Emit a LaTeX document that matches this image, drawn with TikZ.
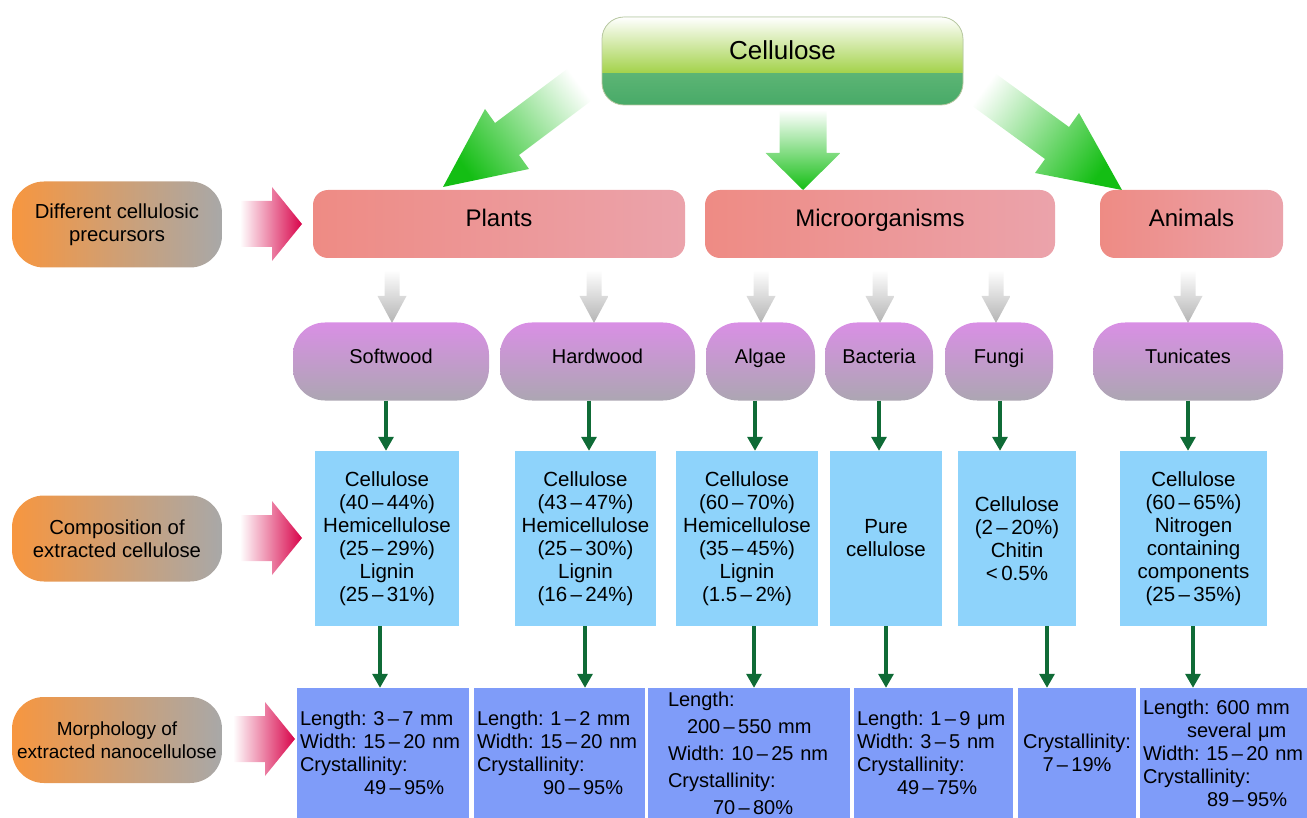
\documentclass[tikz,border=0pt]{standalone}
\usepackage{fontspec}
\setmainfont{Liberation Sans}
\usetikzlibrary{arrows.meta}
\definecolor{lorange}{HTML}{F7963F}
\definecolor{lgray}{HTML}{A8A8A8}
\definecolor{pinkL}{HTML}{EE8B84}
\definecolor{pinkR}{HTML}{EBA3AB}
\definecolor{pillT}{HTML}{D98FE5}
\definecolor{pillB}{HTML}{ACA6B2}
\definecolor{compc}{HTML}{8ED3FB}
\definecolor{morphc}{HTML}{7F9CF9}
\definecolor{dgreen}{HTML}{0F6B36}
\definecolor{agreen}{HTML}{14BE14}
\definecolor{parr}{HTML}{D8044A}
\definecolor{garr}{HTML}{B4B4B4}
\definecolor{cg1}{HTML}{80C78A}
\definecolor{cg2}{HTML}{48AA68}
\definecolor{cy}{HTML}{A3D24A}
\definecolor{cborder}{HTML}{B9C8A2}
\tikzset{
 lbl/.style={rounded corners=32pt, minimum width=210pt, minimum height=86pt, left color=lorange, right color=lgray, inner sep=0pt, align=center},
 grp/.style={rounded corners=15pt, minimum height=68pt, left color=pinkL, right color=pinkR, inner sep=0pt, text height=17pt, text depth=12pt, font=\fontsize{24}{28}\selectfont},
 pill/.style={rounded corners=32pt, minimum height=78pt, top color=pillT, bottom color=pillB, inner sep=0pt, text height=14pt, text depth=10pt, font=\fontsize{20}{24}\selectfont},
 comp/.style={fill=compc, minimum height=175pt, inner sep=0pt, align=center, font=\fontsize{20.5}{23}\selectfont},
 morph/.style={fill=morphc, minimum height=130pt, inner ysep=0pt, align=left, font=\fontsize{20}{23}\selectfont},
 garrow/.style={draw=dgreen, line width=3.2pt, -{Triangle[length=14pt,width=15pt]}},
 grayarr/.pic={\shade[top color=white, bottom color=garr] (-7.5,0) -- (-7.5,26) -- (-14.5,26) -- (0,53) -- (14.5,26) -- (7.5,26) -- (7.5,0) -- cycle;},
 pinkarr/.pic={\shade[left color=white, right color=parr] (0,-23) -- (32,-23) -- (32,-37) -- (62,0) -- (32,37) -- (32,23) -- (0,23) -- cycle;}
}
\begin{document}
\begin{tikzpicture}[x=1pt,y=-1pt]
\useasboundingbox (0,0) rectangle (1307,818);

% big green arrows from Cellulose
\shade[top color=white, bottom color=agreen, shading angle=-53]
  (443,187) -- (529,169) -- (519,155) -- (599,95) -- (575,63) -- (495,123) -- (485,109) -- cycle;
\shade[top color=white, bottom color=agreen, shading angle=54]
  (1122,190) -- (1079,113) -- (1069,127) -- (988,68) -- (964,100) -- (1045,159) -- (1035,173) -- cycle;
\shade[top color=white, bottom color=agreen]
  (779.5,110) -- (779.5,153) -- (765.5,153) -- (803,190) -- (840.5,153) -- (826.5,153) -- (826.5,110) -- cycle;

% Cellulose box
\begin{scope}
\clip[rounded corners=22pt] (602,17) rectangle (963,105);
\shade[top color=cg1, bottom color=cg2] (602,17) rectangle (963,105);
\shade[top color=white, bottom color=cy] (602,17) rectangle (963,73);
\end{scope}
\node[draw=cborder, line width=0.8pt, rounded corners=22pt, minimum width=361pt, minimum height=88pt, inner sep=0pt, text height=19pt, text depth=22.4pt, font=\fontsize{26}{30}\selectfont] (cell) at (782.5,61) {Cellulose};

% row labels
\node[lbl, font=\fontsize{20.3}{23}\selectfont] (l1) at (117,224.5) {Different cellulosic\\precursors};
\node[lbl, font=\fontsize{20.3}{23}\selectfont] (l2) at (117,538.5) {Composition of\\extracted cellulose};
\node[lbl, font=\fontsize{19}{23}\selectfont] (l3) at (117,740) {Morphology of\\extracted nanocellulose};
\pic at (240,224) {pinkarr};
\pic at (240,538) {pinkarr};
\pic at (233,739) {pinkarr};

% groups
\node[grp, minimum width=372pt] (plants) at (499,224) {Plants};
\node[grp, minimum width=350pt] (micro) at (880,224) {Microorganisms};
\node[grp, minimum width=183pt] (animals) at (1191.5,224) {Animals};

% gray arrows
\pic at (392,270) {grayarr};
\pic at (594,270) {grayarr};
\pic at (761,270) {grayarr};
\pic at (880,270) {grayarr};
\pic at (996,270) {grayarr};
\pic at (1188,270) {grayarr};

% pills
\node[pill, minimum width=196pt] (sw) at (391,361.5) {Softwood};
\node[pill, minimum width=195pt] (hw) at (597.5,361.5) {Hardwood};
\node[pill, minimum width=109pt] (al) at (760.5,361.5) {Algae};
\node[pill, minimum width=108pt] (ba) at (879,361.5) {Bacteria};
\node[pill, minimum width=108pt] (fu) at (999,361.5) {Fungi};
\node[pill, minimum width=190pt] (tu) at (1188,361.5) {Tunicates};

% composition boxes
\node[comp, minimum width=144pt] (c1) at (387,538.5) {Cellulose\\(40\,–\,44\%)\\Hemicellulose\\(25\,–\,29\%)\\Lignin\\(25\,–\,31\%)};
\node[comp, minimum width=141pt] (c2) at (585.5,538.5) {Cellulose\\(43\,–\,47\%)\\Hemicellulose\\(25\,–\,30\%)\\Lignin\\(16\,–\,24\%)};
\node[comp, minimum width=142pt] (c3) at (747,538.5) {Cellulose\\(60\,–\,70\%)\\Hemicellulose\\(35\,–\,45\%)\\Lignin\\(1.5\,–\,2\%)};
\node[comp, minimum width=112pt] (c4) at (886,538.5) {Pure\\cellulose};
\node[comp, minimum width=118pt] (c5) at (1017,538.5) {Cellulose\\(2\,–\,20\%)\\Chitin\\<\,0.5\%};
\node[comp, minimum width=147pt] (c6) at (1193.5,538.5) {Cellulose\\(60\,–\,65\%)\\Nitrogen\\containing\\components\\(25\,–\,35\%)};

% morphology boxes
\node[morph, inner xsep=3pt, text width=166pt] (m1) at (383,753) {Length:~3\,–\,7~mm\\Width:~15\,–\,20~nm\\Crystallinity:\\\hspace*{64pt}49\,–\,95\%};
\node[morph, inner xsep=3pt, text width=165pt] (m2) at (559.5,753) {Length:~1\,–\,2~mm\\Width:~15\,–\,20~nm\\Crystallinity:\\\hspace*{66pt}90\,–\,95\%};
\node[morph, inner xsep=20pt, text width=162pt, font=\fontsize{20}{27}\selectfont] (m3) at (749,753) {Length:\\\hspace*{19pt}200\,–\,550~mm\\Width:~10\,–\,25~nm\\Crystallinity:\\\hspace*{45pt}70\,–\,80\%};
\node[morph, inner xsep=3pt, text width=153pt] (m4) at (933.5,753) {Length:~1\,–\,9~μm\\Width:~3\,–\,5~nm\\Crystallinity:\\\hspace*{40pt}49\,–\,75\%};
\node[morph, inner xsep=0pt, minimum width=118pt, align=center] (m5) at (1077,753) {Crystallinity:\\7\,–\,19\%};
\node[morph, inner xsep=3pt, text width=161pt] (m6) at (1223.5,753) {Length:~600~mm\\\hspace*{44pt}several~μm\\Width:~15\,–\,20~nm\\Crystallinity:\\\hspace*{64pt}89\,–\,95\%};

% dark green arrows
\coordinate (u1) at (386,0);
\coordinate (u2) at (589,0);
\coordinate (u3) at (755,0);
\coordinate (u4) at (879,0);
\coordinate (u5) at (1000,0);
\coordinate (u6) at (1188,0);
\draw[garrow] (sw.south -| u1) -- (c1.north -| u1);
\draw[garrow] (hw.south -| u2) -- (c2.north -| u2);
\draw[garrow] (al.south -| u3) -- (c3.north -| u3);
\draw[garrow] (ba.south -| u4) -- (c4.north -| u4);
\draw[garrow] (fu.south -| u5) -- (c5.north -| u5);
\draw[garrow] (tu.south -| u6) -- (c6.north -| u6);
\coordinate (d1) at (380,0);
\coordinate (d2) at (585,0);
\coordinate (d3) at (754,0);
\coordinate (d4) at (886,0);
\coordinate (d5) at (1047,0);
\coordinate (d6) at (1193,0);
\draw[garrow] (c1.south -| d1) -- (m1.north -| d1);
\draw[garrow] (c2.south -| d2) -- (m2.north -| d2);
\draw[garrow] (c3.south -| d3) -- (m3.north -| d3);
\draw[garrow] (c4.south -| d4) -- (m4.north -| d4);
\draw[garrow] (c5.south -| d5) -- (m5.north -| d5);
\draw[garrow] (c6.south -| d6) -- (m6.north -| d6);
\end{tikzpicture}
\end{document}
